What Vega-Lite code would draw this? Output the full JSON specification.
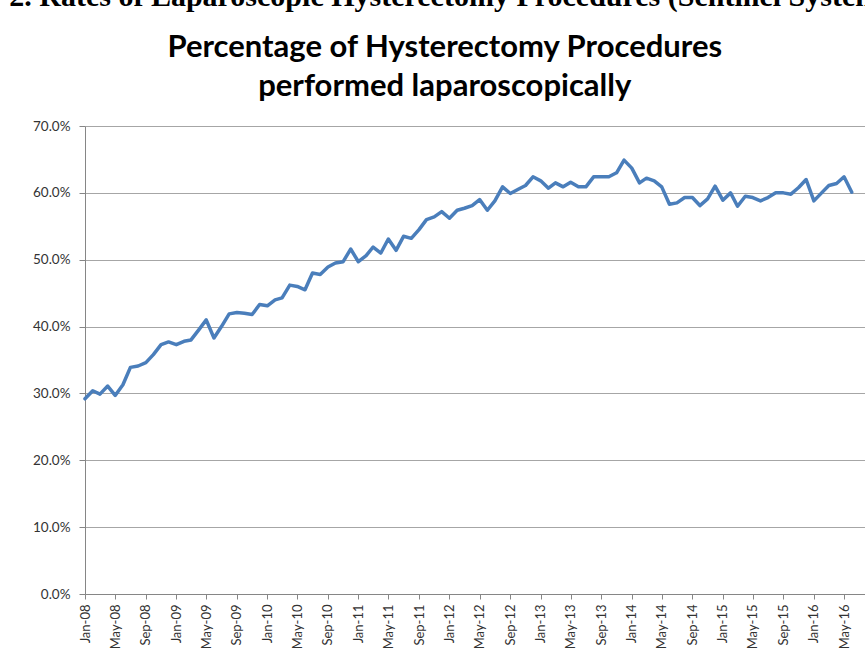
{
  "$schema": "https://vega.github.io/schema/vega-lite/v6.json",
  "width": 782,
  "height": 468,
  "autosize": {"type": "none"},
  "padding": {"left": 85, "top": 126, "right": 0, "bottom": 76},
  "background": "white",
  "title": {
    "text": "2. Rates of Laparoscopic Hysterectomy Procedures (Sentinel System",
    "subtitle": ["Percentage of Hysterectomy Procedures", "performed laparoscopically"],
    "anchor": "middle",
    "frame": "bounds",
    "dx": -5,
    "font": "Liberation Serif",
    "fontSize": 30,
    "fontWeight": "bold",
    "color": "black",
    "subtitleFont": "Lato",
    "subtitleFontSize": 31,
    "subtitleFontWeight": "bold",
    "subtitleColor": "black",
    "subtitleLineHeight": 39,
    "subtitlePadding": 21,
    "offset": 17
  },
  "config": {
    "view": {"stroke": null},
    "axis": {"labelFont": "Lato", "labelColor": "#333333", "domainColor": "#868686", "tickColor": "#868686"}
  },
  "data": {
    "values": [
      {"date": "2008-01-01", "pct": 0.292},
      {"date": "2008-02-01", "pct": 0.304},
      {"date": "2008-03-01", "pct": 0.299},
      {"date": "2008-04-01", "pct": 0.311},
      {"date": "2008-05-01", "pct": 0.297},
      {"date": "2008-06-01", "pct": 0.313},
      {"date": "2008-07-01", "pct": 0.339},
      {"date": "2008-08-01", "pct": 0.341},
      {"date": "2008-09-01", "pct": 0.346},
      {"date": "2008-10-01", "pct": 0.358},
      {"date": "2008-11-01", "pct": 0.373},
      {"date": "2008-12-01", "pct": 0.377},
      {"date": "2009-01-01", "pct": 0.373},
      {"date": "2009-02-01", "pct": 0.378},
      {"date": "2009-03-01", "pct": 0.380},
      {"date": "2009-04-01", "pct": 0.395},
      {"date": "2009-05-01", "pct": 0.410},
      {"date": "2009-06-01", "pct": 0.383},
      {"date": "2009-07-01", "pct": 0.400},
      {"date": "2009-08-01", "pct": 0.419},
      {"date": "2009-09-01", "pct": 0.421},
      {"date": "2009-10-01", "pct": 0.420},
      {"date": "2009-11-01", "pct": 0.418},
      {"date": "2009-12-01", "pct": 0.433},
      {"date": "2010-01-01", "pct": 0.431},
      {"date": "2010-02-01", "pct": 0.440},
      {"date": "2010-03-01", "pct": 0.443},
      {"date": "2010-04-01", "pct": 0.462},
      {"date": "2010-05-01", "pct": 0.460},
      {"date": "2010-06-01", "pct": 0.455},
      {"date": "2010-07-01", "pct": 0.480},
      {"date": "2010-08-01", "pct": 0.478},
      {"date": "2010-09-01", "pct": 0.489},
      {"date": "2010-10-01", "pct": 0.495},
      {"date": "2010-11-01", "pct": 0.497},
      {"date": "2010-12-01", "pct": 0.516},
      {"date": "2011-01-01", "pct": 0.497},
      {"date": "2011-02-01", "pct": 0.506},
      {"date": "2011-03-01", "pct": 0.519},
      {"date": "2011-04-01", "pct": 0.510},
      {"date": "2011-05-01", "pct": 0.531},
      {"date": "2011-06-01", "pct": 0.514},
      {"date": "2011-07-01", "pct": 0.535},
      {"date": "2011-08-01", "pct": 0.532},
      {"date": "2011-09-01", "pct": 0.545},
      {"date": "2011-10-01", "pct": 0.560},
      {"date": "2011-11-01", "pct": 0.564},
      {"date": "2011-12-01", "pct": 0.572},
      {"date": "2012-01-01", "pct": 0.562},
      {"date": "2012-02-01", "pct": 0.574},
      {"date": "2012-03-01", "pct": 0.577},
      {"date": "2012-04-01", "pct": 0.581},
      {"date": "2012-05-01", "pct": 0.590},
      {"date": "2012-06-01", "pct": 0.574},
      {"date": "2012-07-01", "pct": 0.588},
      {"date": "2012-08-01", "pct": 0.609},
      {"date": "2012-09-01", "pct": 0.599},
      {"date": "2012-10-01", "pct": 0.605},
      {"date": "2012-11-01", "pct": 0.611},
      {"date": "2012-12-01", "pct": 0.624},
      {"date": "2013-01-01", "pct": 0.618},
      {"date": "2013-02-01", "pct": 0.607},
      {"date": "2013-03-01", "pct": 0.615},
      {"date": "2013-04-01", "pct": 0.609},
      {"date": "2013-05-01", "pct": 0.616},
      {"date": "2013-06-01", "pct": 0.609},
      {"date": "2013-07-01", "pct": 0.609},
      {"date": "2013-08-01", "pct": 0.624},
      {"date": "2013-09-01", "pct": 0.624},
      {"date": "2013-10-01", "pct": 0.624},
      {"date": "2013-11-01", "pct": 0.630},
      {"date": "2013-12-01", "pct": 0.649},
      {"date": "2014-01-01", "pct": 0.637},
      {"date": "2014-02-01", "pct": 0.615},
      {"date": "2014-03-01", "pct": 0.622},
      {"date": "2014-04-01", "pct": 0.618},
      {"date": "2014-05-01", "pct": 0.609},
      {"date": "2014-06-01", "pct": 0.583},
      {"date": "2014-07-01", "pct": 0.585},
      {"date": "2014-08-01", "pct": 0.593},
      {"date": "2014-09-01", "pct": 0.593},
      {"date": "2014-10-01", "pct": 0.581},
      {"date": "2014-11-01", "pct": 0.591},
      {"date": "2014-12-01", "pct": 0.610},
      {"date": "2015-01-01", "pct": 0.589},
      {"date": "2015-02-01", "pct": 0.600},
      {"date": "2015-03-01", "pct": 0.580},
      {"date": "2015-04-01", "pct": 0.595},
      {"date": "2015-05-01", "pct": 0.593},
      {"date": "2015-06-01", "pct": 0.588},
      {"date": "2015-07-01", "pct": 0.593},
      {"date": "2015-08-01", "pct": 0.600},
      {"date": "2015-09-01", "pct": 0.600},
      {"date": "2015-10-01", "pct": 0.598},
      {"date": "2015-11-01", "pct": 0.608},
      {"date": "2015-12-01", "pct": 0.620},
      {"date": "2016-01-01", "pct": 0.588},
      {"date": "2016-02-01", "pct": 0.600},
      {"date": "2016-03-01", "pct": 0.611},
      {"date": "2016-04-01", "pct": 0.614},
      {"date": "2016-05-01", "pct": 0.624},
      {"date": "2016-06-01", "pct": 0.601}
    ]
  },
  "mark": {"type": "line", "color": "#4a7ebb", "strokeWidth": 3.5, "strokeJoin": "round", "strokeCap": "round"},
  "encoding": {
    "x": {
      "field": "date",
      "type": "temporal",
      "scale": {
        "type": "utc",
        "nice": false,
        "domain": [
          {"year": 2008, "month": 1, "date": 1, "utc": true},
          {"year": 2016, "month": 8, "date": 1, "utc": true}
        ]
      },
      "axis": {
        "title": null,
        "labelExpr": "utcFormat(datum.value, '%b-%y')",
        "tickCount": {"interval": "month", "step": 4},
        "labelAngle": -90,
        "labelFontSize": 13,
        "labelPadding": 5,
        "tickSize": 5,
        "grid": false,
        "labelOverlap": false,
        "labelFlush": false,
        "labelBound": false
      }
    },
    "y": {
      "field": "pct",
      "type": "quantitative",
      "scale": {"domain": [0, 0.7], "nice": false},
      "axis": {
        "title": null,
        "format": ".1%",
        "values": [0, 0.1, 0.2, 0.3, 0.4, 0.5, 0.6, 0.7],
        "labelFontSize": 13.5,
        "labelPadding": 9,
        "tickSize": 6,
        "grid": true,
        "gridColor": "#a6a6a6",
        "gridWidth": 1
      }
    }
  }
}
